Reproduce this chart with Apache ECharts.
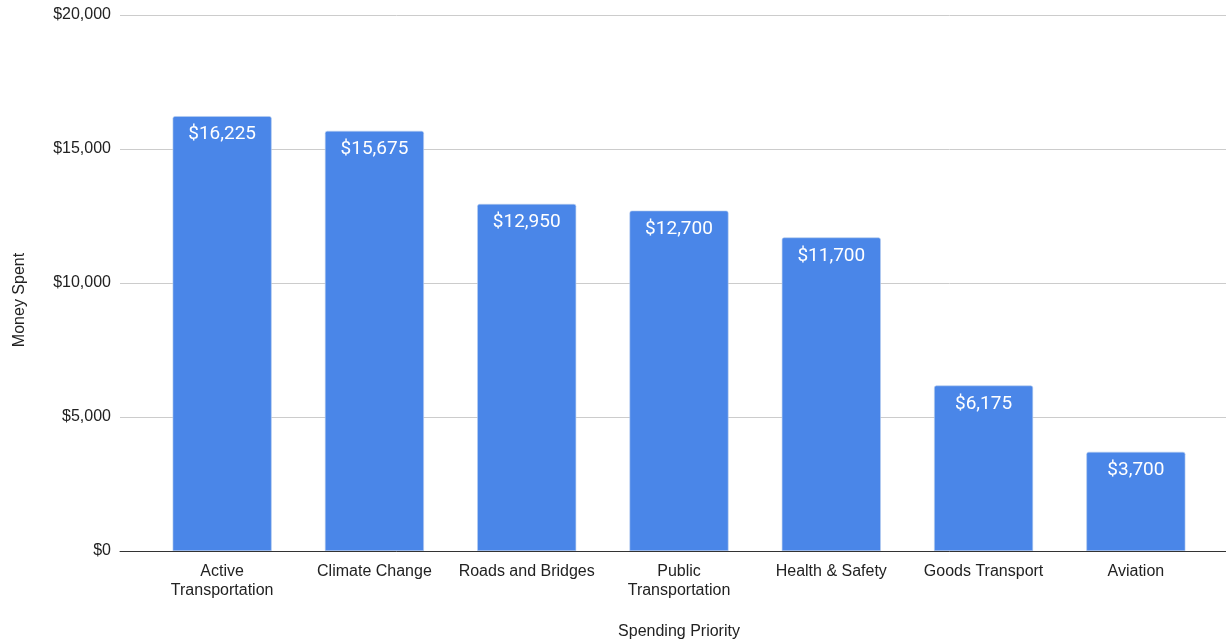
<!DOCTYPE html>
<html><head><meta charset="utf-8">
<script src="https://cdn.jsdelivr.net/npm/echarts@6/dist/echarts.min.js"></script>
<style>html,body{margin:0;padding:0;background:#fff}#c{width:1226px;height:641px}</style>
</head><body><div id="c"></div>
<script>
const categories = ['Active\nTransportation','Climate Change','Roads and Bridges','Public\nTransportation','Health & Safety','Goods Transport','Aviation'];
const values = [16225, 15675, 12950, 12700, 11700, 6175, 3700];
const yTicks = [0, 5000, 10000, 15000, 20000];

const fmt = v => '$' + v.toLocaleString('en-US');
const chart = echarts.init(document.getElementById('c'));
chart.setOption({
  animation: false,
  grid: [
    {left: 120, right: 0, top: 15, bottom: 90},
    {left: 146, right: 14, top: 15, bottom: 90}
  ],
  xAxis: [
    {gridIndex: 0, type: 'category', data: [''], axisLabel: {show: false}, axisTick: {show: false},
     axisLine: {lineStyle: {color: '#333', width: 1}}, z: 5},
    {gridIndex: 1, type: 'category', data: categories,
     axisLine: {show: false}, axisTick: {show: false},
     axisLabel: {interval: 0, margin: 11, color: '#222', fontFamily: 'Liberation Sans, Arial', fontSize: 16, lineHeight: 19}}
  ],
  yAxis: [
    {gridIndex: 0, type: 'value', min: yTicks[0], max: yTicks[yTicks.length-1], interval: 5000,
     axisLine: {show: false}, axisTick: {show: false},
     splitLine: {lineStyle: {color: '#cccccc', width: 1}},
     axisLabel: {formatter: fmt, margin: 9, color: '#222', fontFamily: 'Liberation Sans, Arial', fontSize: 16}},
    {gridIndex: 1, type: 'value', min: 0, max: 20000, interval: 5000, show: false}
  ],
  graphic: [
    {type: 'text', x: 20, y: 300, rotation: Math.PI/2, style: {text: 'Money Spent', fill: '#222', font: '16px "Liberation Sans", Arial', textAlign: 'center', textVerticalAlign: 'middle'}},
    {type: 'text', x: 679, y: 632, style: {text: 'Spending Priority', fill: '#222', font: '16px "Liberation Sans", Arial', textAlign: 'center', textVerticalAlign: 'middle'}}
  ],
  series: [{
    type: 'bar', xAxisIndex: 1, yAxisIndex: 1, data: values, barWidth: 99,
    itemStyle: {color: '#4a86e8', borderRadius: [2,2,0,0], borderColor: '#b8cfee', borderWidth: 0.6},
    label: {show: true, position: 'insideTop', distance: 9, color: '#fff', fontFamily: 'Roboto', fontSize: 19, formatter: p => fmt(p.value)},
    z: 3
  }]
});
</script></body></html>
